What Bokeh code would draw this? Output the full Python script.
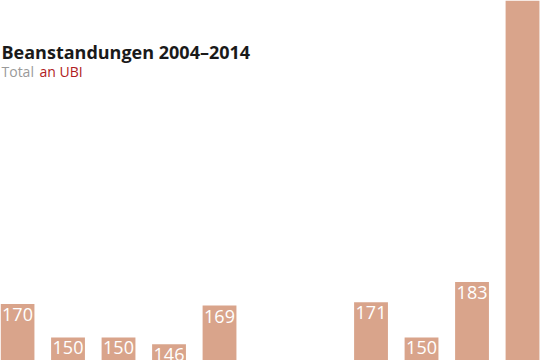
from bokeh.plotting import figure
from bokeh.models import ColumnDataSource, Label, Range1d
from bokeh.core.properties import value
from bokeh.embed import file_html
from bokeh.resources import INLINE

years = ["2004", "2005", "2006", "2007", "2008", "2009", "2010", "2011", "2012", "2013", "2014"]
counts = [170, 150, 150, 146, 169, 120, 112, 171, 150, 183, 420]
labels = [str(c) for c in counts]

idx = list(range(len(years)))
src = ColumnDataSource(dict(x=idx, top=counts, lab=labels))

p = figure(width=540, height=360, output_backend="svg", toolbar_location=None,
           x_range=Range1d(-0.337, 10.356), y_range=Range1d(136.3, 350.6),
           min_border=0)
p.axis.visible = False
p.grid.visible = False
p.outline_line_color = None
p.background_fill_color = "white"

p.vbar(x="x", top="top", bottom=0, width=0.67, source=src,
       fill_color="#d9a48b", line_color=None)
p.text(x="x", y="top", text="lab", source=src, text_color="white",
       text_font=value("Open Sans"), text_font_size="18px",
       text_align="center", text_baseline="top", y_offset=4)

p.add_layout(Label(x=1, y=309, x_units="screen", y_units="screen",
                   text="Beanstandungen 2004\u20132014", text_font="Open Sans",
                   text_font_style="bold", text_font_size="18px",
                   text_color="#1a1a1a", text_baseline="alphabetic"))
p.add_layout(Label(x=1, y=289, x_units="screen", y_units="screen",
                   text="Total", text_font="Open Sans", text_font_size="14px",
                   text_color="#9a9a9a", text_baseline="alphabetic"))
p.add_layout(Label(x=39, y=289, x_units="screen", y_units="screen",
                   text="an UBI", text_font="Open Sans", text_font_size="14px",
                   text_color="#b01c22", text_baseline="alphabetic"))

open("out.html", "w").write(file_html(p, INLINE))
